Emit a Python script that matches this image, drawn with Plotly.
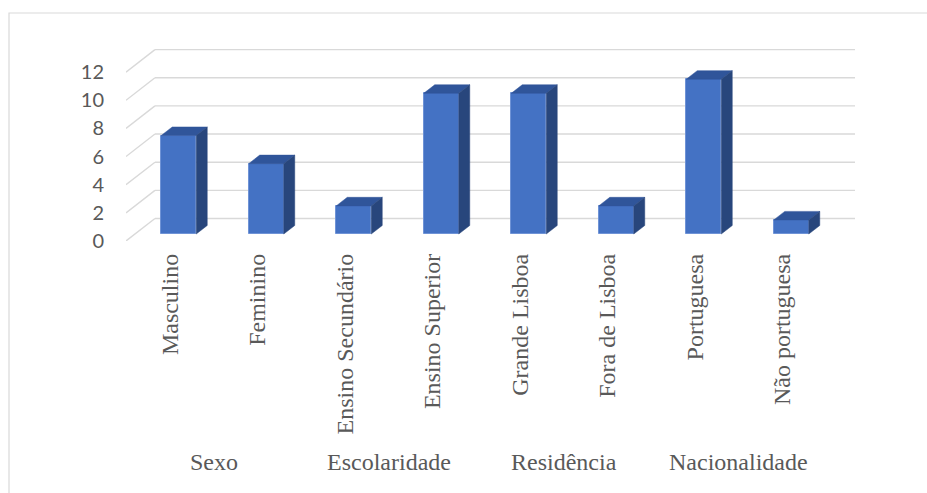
import plotly.graph_objects as go

groups = ["Sexo", "Escolaridade", "Residência", "Nacionalidade"]
categories = ["Masculino", "Feminino", "Ensino Secundário", "Ensino Superior",
              "Grande Lisboa", "Fora de Lisboa", "Portuguesa", "Não portuguesa"]
values = [7, 5, 2, 10, 10, 2, 11, 1]
y_ticks = [0, 2, 4, 6, 8, 10, 12]

# pseudo-3D geometry (in axis units)
DX, DY = 0.331, 1.6        # depth offset of the back wall
F0, F1 = 0.31, 0.69        # bar depth span (fraction of depth)
BW = 0.4                   # bar width

W, H = 927, 493
L, R, T, B = 126, 72, 44, 252
x_range = [-0.5, len(categories) - 0.5 + DX]
y_range = [0, 14]

FRONT = "#4472C4"
TOP = "#30559A"
SIDE = "#28467C"
GRID = "#D9D9D9"
TXT = "#595959"
SERIF = "Liberation Serif"

fig = go.Figure()

# front faces
fig.add_trace(go.Bar(
    x=[i + F0 * DX for i in range(len(categories))],
    y=values, base=F0 * DY, width=BW,
    marker=dict(color=FRONT, line=dict(color="#6F93D6", width=1)),
    hoverinfo="skip", showlegend=False))

# top and side faces
d_x = (F1 - F0) * DX
d_y = (F1 - F0) * DY
for i, v in enumerate(values):
    xl = i - BW / 2 + F0 * DX
    xr = i + BW / 2 + F0 * DX
    yb = F0 * DY
    yt = v + F0 * DY
    fig.add_trace(go.Scatter(
        x=[xl, xr, xr + d_x, xl + d_x, xl],
        y=[yt, yt, yt + d_y, yt + d_y, yt],
        fill="toself", fillcolor=TOP, mode="lines",
        line=dict(color=TOP, width=0.5), hoverinfo="skip", showlegend=False))
    fig.add_trace(go.Scatter(
        x=[xr, xr + d_x, xr + d_x, xr, xr],
        y=[yb, yb + d_y, yt + d_y, yt, yb],
        fill="toself", fillcolor=SIDE, mode="lines",
        line=dict(color=SIDE, width=0.5), hoverinfo="skip", showlegend=False))

shapes = []
x0 = -0.5
x1 = len(categories) - 0.5 + DX
for v in y_ticks:
    shapes.append(dict(type="line", xref="x", yref="y", layer="below",
                       x0=x0, y0=v, x1=x0 + DX, y1=v + DY,
                       line=dict(color=GRID, width=1.4)))
    shapes.append(dict(type="line", xref="x", yref="y", layer="below",
                       x0=x0 + DX, y0=v + DY, x1=x1, y1=v + DY,
                       line=dict(color=GRID, width=1.4)))

# chart border (paper coords from pixel positions)
pw = W - L - R
ph = H - T - B
def px_x(p):
    return (p - L) / pw
def px_y(p):
    return (H - B - p) / ph
shapes.append(dict(type="rect", xref="paper", yref="paper", layer="below",
                   x0=px_x(9), x1=px_x(W + 5), y0=px_y(H + 5), y1=px_y(13),
                   line=dict(color=GRID, width=1.2), fillcolor="rgba(0,0,0,0)"))

annotations = []
for g, name in enumerate(groups):
    annotations.append(dict(
        x=2 * g + 0.5, xref="x", y=px_y(462), yref="paper",
        text=name, showarrow=False, yanchor="middle", xanchor="center",
        font=dict(family=SERIF, size=24, color=TXT)))

fig.update_layout(
    width=W, height=H,
    margin=dict(l=L, r=R, t=T, b=B),
    paper_bgcolor="white", plot_bgcolor="white",
    shapes=shapes, annotations=annotations,
    xaxis=dict(range=x_range, tickmode="array",
               tickvals=list(range(len(categories))), ticktext=categories,
               tickangle=-90, showgrid=False, zeroline=False, showline=False,
               ticks="", ticklabelstandoff=7,
               tickfont=dict(family=SERIF, size=24, color=TXT)),
    yaxis=dict(range=y_range, tickmode="array", tickvals=y_ticks,
               showgrid=False, zeroline=False, showline=False, ticks="",
               ticklabelstandoff=21,
               tickfont=dict(family="Lato, Carlito, sans-serif", size=20, color=TXT)),
    bargap=0,
)

fig.write_html("out.html")
